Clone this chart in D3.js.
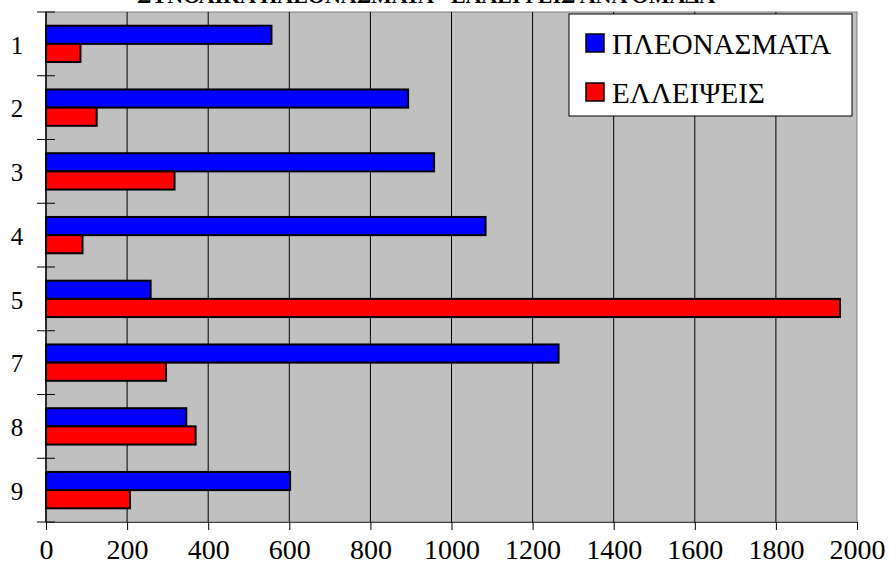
<!DOCTYPE html>
<html>
<head>
<meta charset="utf-8">
<script src="https://cdn.jsdelivr.net/npm/d3@7"></script>
<style>
  body { margin: 0; background: #fff; }
  svg { display: block; }
</style>
</head>
<body>
<svg id="root"></svg>
<script>
// Horizontal grouped bars, two series per category

const categories = ["1", "2", "3", "4", "5", "7", "8", "9"];
const surplus = [556, 893, 957, 1084, 258, 1264, 346, 602];   // ΠΛΕΟΝΑΣΜΑΤΑ
const deficit = [85, 125, 317, 90, 1958, 296, 369, 207];      // ΕΛΛΕΙΨΕΙΣ
const seriesNames = ["ΠΛΕΟΝΑΣΜΑΤΑ", "ΕΛΛΕΙΨΕΙΣ"];
const seriesColors = ["#0000ff", "#ff0000"];
const xTicks = [0, 200, 400, 600, 800, 1000, 1200, 1400, 1600, 1800, 2000];
const title = "ΣΥΝΟΛΙΚΑ ΠΛΕΟΝΑΣΜΑΤΑ - ΕΛΛΕΙΨΕΙΣ ΑΝΑ ΟΜΑΔΑ";

const FONT = "Liberation Serif";
const W = 889, H = 577;
const margin = { top: 12, right: 32, bottom: 55, left: 46 },
  width = W - margin.left - margin.right,
  height = H - margin.top - margin.bottom;

const svg = d3.select("#root").attr("width", W).attr("height", H);

// title, mostly above the visible area (as in the original)
svg.append("text")
  .attr("x", 426)
  .attr("y", 3)
  .attr("text-anchor", "middle")
  .attr("font-weight", "bold")
  .attr("font-size", 22)
  .style("font-family", FONT)
  .text(title);

const g = svg.append("g").attr("transform", `translate(${margin.left},${margin.top})`);

const xScale = d3.scaleLinear().domain([0, 2000]).range([0, width]);
const yScale = d3.scaleBand().domain(categories).range([0, height])
  .paddingInner(0.43).paddingOuter(0.215);
const inner = d3.scaleBand().domain([0, 1]).range([0, yScale.bandwidth()]);

// plot background
g.append("rect")
  .attr("width", width).attr("height", height)
  .attr("fill", "#c0c0c0")
  .attr("stroke", "#808080").attr("stroke-width", 1);

// vertical gridlines
g.selectAll(".grid")
  .data(xTicks.slice(1, -1))
  .join("line")
  .attr("class", "grid")
  .attr("x1", (d) => xScale(d)).attr("x2", (d) => xScale(d))
  .attr("y1", 0).attr("y2", height)
  .attr("stroke", "#000").attr("stroke-width", 1);

// bars
const rows = categories.map((c, i) => ({ cat: c, vals: [surplus[i], deficit[i]] }));
const grp = g.selectAll(".cat")
  .data(rows)
  .join("g")
  .attr("class", "cat")
  .attr("transform", (d) => `translate(0,${yScale(d.cat)})`);

grp.selectAll("rect")
  .data((d) => d.vals.map((v, k) => ({ v, k })))
  .join("rect")
  .attr("x", 0)
  .attr("y", (d) => inner(d.k))
  .attr("width", (d) => xScale(d.v))
  .attr("height", inner.bandwidth())
  .attr("fill", (d) => seriesColors[d.k])
  .attr("stroke", "#000")
  .attr("stroke-width", 2);

// x axis
const xAxis = d3.axisBottom(xScale)
  .tickValues(xTicks)
  .tickFormat(d3.format("d"))
  .tickSize(8).tickPadding(9).tickSizeOuter(0);
const xg = g.append("g").attr("transform", `translate(0,${height})`).call(xAxis);
xg.select(".domain").attr("stroke", "#404040");
xg.selectAll("text")
  .attr("font-size", 28)
  .attr("fill", "#000")
  .style("font-family", FONT);

// category boundaries on the y axis (crossing tick marks)
const bounds = d3.range(categories.length + 1).map((i) => i * yScale.step());
g.selectAll(".ytick")
  .data(bounds)
  .join("line")
  .attr("class", "ytick")
  .attr("x1", -9).attr("x2", 9)
  .attr("y1", (d) => d).attr("y2", (d) => d)
  .attr("stroke", "#000").attr("stroke-width", 1);

g.append("line")
  .attr("x1", 0).attr("x2", 0).attr("y1", 0).attr("y2", height)
  .attr("stroke", "#000").attr("stroke-width", 1.5);

g.selectAll(".ylab")
  .data(categories)
  .join("text")
  .attr("class", "ylab")
  .attr("x", -29)
  .attr("y", (d) => yScale(d) + yScale.bandwidth() / 2 + 1)
  .attr("dy", "0.35em")
  .attr("text-anchor", "middle")
  .attr("font-size", 25)
  .style("font-family", FONT)
  .text((d) => d);

// legend
const legend = svg.append("g").attr("transform", "translate(569,14)");
legend.append("rect")
  .attr("width", 283).attr("height", 102)
  .attr("fill", "#fff").attr("stroke", "#000").attr("stroke-width", 1);

const item = legend.selectAll(".item")
  .data(seriesNames)
  .join("g")
  .attr("class", "item")
  .attr("transform", (d, i) => `translate(17,${29 + i * 49})`);

item.append("rect")
  .attr("x", 0).attr("y", -9)
  .attr("width", 18).attr("height", 18)
  .attr("fill", (d, i) => seriesColors[i])
  .attr("stroke", "#000").attr("stroke-width", 1.5);

item.append("text")
  .attr("x", 26).attr("y", 1)
  .attr("dy", "0.35em")
  .attr("font-size", 29)
  .style("font-family", FONT)
  .text((d) => d);
</script>
</body>
</html>
